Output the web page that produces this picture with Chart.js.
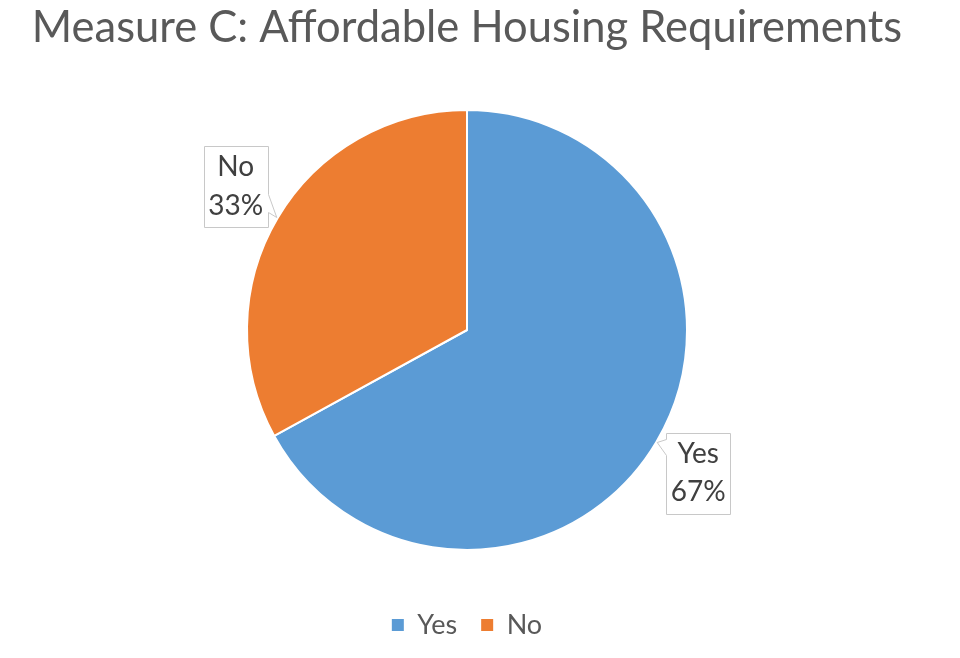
<!DOCTYPE html>
<html>
<head>
<meta charset="utf-8">
<script src="https://cdn.jsdelivr.net/npm/chart.js@4.4.1/dist/chart.umd.min.js"></script>
<style>
  html, body { margin: 0; padding: 0; background: #fff; }
  #wrap { width: 960px; height: 658px; }
</style>
</head>
<body>
<div id="wrap"><canvas id="pie"></canvas></div>
<script>
const titleText = 'Measure C: Affordable Housing Requirements';
const categories = ['Yes', 'No'];
const shares = [67, 33];
const sliceColors = ['#5B9BD5', '#ED7D31'];

// callout boxes next to each slice, like the Excel data labels
const calloutPlugin = {
    id: 'callouts',
    afterDatasetsDraw(chart) {
        const ctx = chart.ctx;
        const meta = chart.getDatasetMeta(0);
        const total = shares.reduce((a, b) => a + b, 0);
        const w = 64, h = 81;
        ctx.save();
        meta.data.forEach((arc, i) => {
            const mid = (arc.startAngle + arc.endAngle) / 2;
            const r = arc.outerRadius;
            const la = mid + 0.02;
            const cx = arc.x + Math.cos(la) * r * 1.236;
            const cy = arc.y + Math.sin(la) * r * 1.236;
            const tipX = arc.x + Math.cos(mid) * (r + 1);
            const tipY = arc.y + Math.sin(mid) * (r + 1);
            const left = Math.round(cx - w / 2) + 0.5;
            const top = Math.round(cy - h / 2) + 0.5;
            const right = left + w, bottom = top + h;
            const ny = Math.min(Math.max(tipY, top + 14), bottom - 24);

            ctx.beginPath();
            ctx.moveTo(left, top);
            ctx.lineTo(right, top);
            if (tipX > right) {
                ctx.lineTo(right, ny - 9);
                ctx.lineTo(tipX, tipY);
                ctx.lineTo(right, ny + 9);
            }
            ctx.lineTo(right, bottom);
            ctx.lineTo(left, bottom);
            if (tipX < left) {
                ctx.lineTo(left, ny + 8);
                ctx.lineTo(tipX, tipY);
                ctx.lineTo(left, ny - 8);
            }
            ctx.closePath();
            ctx.fillStyle = '#ffffff';
            ctx.fill();
            ctx.strokeStyle = '#c8c8c8';
            ctx.lineWidth = 1;
            ctx.stroke();

            const pct = Math.round(shares[i] / total * 100) + '%';
            ctx.fillStyle = '#404040';
            ctx.font = '28px Lato';
            ctx.textAlign = 'center';
            ctx.textBaseline = 'middle';
            ctx.fillText(categories[i], cx, cy - 19.5);
            ctx.fillText(pct, cx, cy + 19);
        });
        ctx.restore();
    }
};

new Chart(document.getElementById('pie'), {
    type: 'pie',
    data: {
        labels: categories,
        datasets: [{
            data: shares,
            backgroundColor: sliceColors,
            borderColor: '#ffffff',
            borderWidth: 2,
            radius: 220
        }]
    },
    options: {
        responsive: true,
        maintainAspectRatio: false,
        animation: false,
        layout: { padding: { left: 0, right: 26, top: 0, bottom: 9.5 } },
        plugins: {
            title: {
                display: true,
                text: titleText,
                color: '#595959',
                font: { family: 'Lato', size: 43.5, weight: 'normal' },
                padding: { top: 2, bottom: 18.3 }
            },
            legend: {
                position: 'bottom',
                labels: {
                    boxWidth: 12,
                    boxHeight: 12,
                    padding: 24,
                    color: '#595959',
                    font: { family: 'Lato', size: 27 },
                    generateLabels(chart) {
                        const items = Chart.overrides.pie.plugins.legend.labels.generateLabels(chart);
                        items.forEach(it => { it.lineWidth = 0; it.strokeStyle = 'transparent'; });
                        return items;
                    }
                }
            },
            tooltip: { enabled: false }
        }
    },
    plugins: [calloutPlugin]
});
</script>
</body>
</html>
